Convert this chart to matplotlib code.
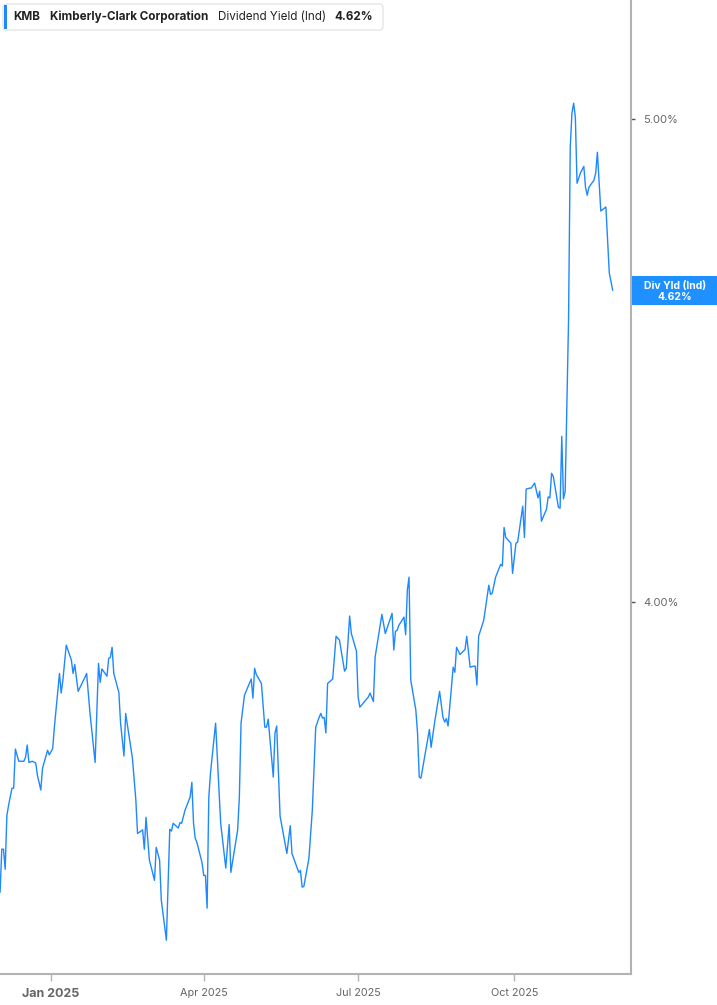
import numpy as np
import pandas as pd
import matplotlib
matplotlib.use("Agg")
import matplotlib.pyplot as plt
import matplotlib.dates as mdates
from matplotlib.patches import FancyBboxPatch, Rectangle
from matplotlib.ticker import FixedLocator, NullLocator, NullFormatter

# dividend yield (indicated)
dates = [
    "2024-12-02", "2024-12-03", "2024-12-04", "2024-12-05", "2024-12-06", "2024-12-07",
    "2024-12-09", "2024-12-10", "2024-12-11", "2024-12-13", "2024-12-16", "2024-12-17",
    "2024-12-18", "2024-12-19", "2024-12-21", "2024-12-23", "2024-12-24", "2024-12-26",
    "2024-12-27", "2024-12-30", "2024-12-31", "2025-01-02", "2025-01-03", "2025-01-06",
    "2025-01-07", "2025-01-08", "2025-01-10", "2025-01-13", "2025-01-14", "2025-01-15",
    "2025-01-17", "2025-01-21", "2025-01-22", "2025-01-24", "2025-01-27", "2025-01-29",
    "2025-01-30", "2025-01-31", "2025-02-03", "2025-02-04", "2025-02-05", "2025-02-06",
    "2025-02-07", "2025-02-10", "2025-02-11", "2025-02-13", "2025-02-14", "2025-02-18",
    "2025-02-20", "2025-02-21", "2025-02-22", "2025-02-24", "2025-02-25", "2025-02-26",
    "2025-02-28", "2025-03-03", "2025-03-04", "2025-03-06", "2025-03-07", "2025-03-10",
    "2025-03-12", "2025-03-13", "2025-03-14", "2025-03-17", "2025-03-18", "2025-03-19",
    "2025-03-21", "2025-03-24", "2025-03-25", "2025-03-26", "2025-03-27", "2025-03-28",
    "2025-03-31", "2025-04-01", "2025-04-02", "2025-04-03", "2025-04-04", "2025-04-05",
    "2025-04-08", "2025-04-11", "2025-04-14", "2025-04-16", "2025-04-17", "2025-04-21",
    "2025-04-22", "2025-04-23", "2025-04-25", "2025-04-29", "2025-04-30", "2025-05-01",
    "2025-05-02", "2025-05-05", "2025-05-07", "2025-05-08", "2025-05-09", "2025-05-12",
    "2025-05-13", "2025-05-14", "2025-05-16", "2025-05-20", "2025-05-22", "2025-05-23",
    "2025-05-27", "2025-05-28", "2025-05-29", "2025-05-30", "2025-06-02", "2025-06-04",
    "2025-06-06", "2025-06-08", "2025-06-09", "2025-06-10", "2025-06-11", "2025-06-12",
    "2025-06-13", "2025-06-16", "2025-06-18", "2025-06-20", "2025-06-23", "2025-06-24",
    "2025-06-26", "2025-06-27", "2025-06-30", "2025-07-01", "2025-07-02", "2025-07-07",
    "2025-07-08", "2025-07-10", "2025-07-11", "2025-07-15", "2025-07-17", "2025-07-21",
    "2025-07-22", "2025-07-23", "2025-07-24", "2025-07-25", "2025-07-28", "2025-07-29",
    "2025-07-30", "2025-07-31", "2025-08-01", "2025-08-04", "2025-08-05", "2025-08-06",
    "2025-08-07", "2025-08-12", "2025-08-13", "2025-08-15", "2025-08-18", "2025-08-20",
    "2025-08-21", "2025-08-22", "2025-08-23", "2025-08-26", "2025-08-27", "2025-08-28",
    "2025-08-30", "2025-09-02", "2025-09-03", "2025-09-05", "2025-09-07", "2025-09-08",
    "2025-09-09", "2025-09-10", "2025-09-13", "2025-09-15", "2025-09-16", "2025-09-17",
    "2025-09-18", "2025-09-20", "2025-09-23", "2025-09-24", "2025-09-25", "2025-09-26",
    "2025-09-29", "2025-09-30", "2025-10-02", "2025-10-03", "2025-10-06", "2025-10-07",
    "2025-10-08", "2025-10-10", "2025-10-11", "2025-10-13", "2025-10-15", "2025-10-16",
    "2025-10-17", "2025-10-20", "2025-10-21", "2025-10-22", "2025-10-23", "2025-10-24",
    "2025-10-27", "2025-10-28", "2025-10-29", "2025-10-30", "2025-10-31", "2025-11-02",
    "2025-11-03", "2025-11-04", "2025-11-05", "2025-11-06", "2025-11-07", "2025-11-09",
    "2025-11-11", "2025-11-12", "2025-11-13", "2025-11-14", "2025-11-17", "2025-11-18",
    "2025-11-19", "2025-11-21", "2025-11-23", "2025-11-24", "2025-11-26", "2025-11-28",
]
yield_pct = [
    3.498, 3.568, 3.568, 3.535, 3.624, 3.641,
    3.670, 3.670, 3.737, 3.716, 3.716, 3.723,
    3.744, 3.714, 3.716, 3.713, 3.692, 3.667,
    3.704, 3.735, 3.727, 3.738, 3.775, 3.870,
    3.835, 3.858, 3.921, 3.894, 3.870, 3.886,
    3.838, 3.863, 3.870, 3.799, 3.714, 3.888,
    3.854, 3.878, 3.865, 3.897, 3.899, 3.917,
    3.870, 3.836, 3.782, 3.725, 3.799, 3.721,
    3.650, 3.594, 3.596, 3.600, 3.568, 3.621,
    3.550, 3.517, 3.571, 3.550, 3.485, 3.421,
    3.601, 3.598, 3.611, 3.603, 3.612, 3.611,
    3.633, 3.655, 3.680, 3.611, 3.586, 3.579,
    3.546, 3.525, 3.525, 3.472, 3.655, 3.696,
    3.782, 3.611, 3.537, 3.609, 3.530, 3.600,
    3.655, 3.782, 3.831, 3.860, 3.826, 3.879,
    3.868, 3.852, 3.775, 3.775, 3.789, 3.689,
    3.765, 3.777, 3.623, 3.561, 3.607, 3.561,
    3.530, 3.533, 3.506, 3.507, 3.553, 3.633,
    3.775, 3.792, 3.799, 3.791, 3.792, 3.765,
    3.852, 3.860, 3.937, 3.930, 3.874, 3.879,
    3.974, 3.942, 3.910, 3.828, 3.810, 3.828,
    3.835, 3.820, 3.899, 3.977, 3.942, 3.979,
    3.912, 3.946, 3.948, 3.957, 3.972, 3.940,
    4.022, 4.046, 3.858, 3.805, 3.765, 3.689,
    3.687, 3.771, 3.740, 3.782, 3.838, 3.792,
    3.784, 3.790, 3.777, 3.881, 3.872, 3.917,
    3.904, 3.913, 3.937, 3.881, 3.883, 3.883,
    3.849, 3.937, 3.966, 4.009, 4.031, 4.014,
    4.016, 4.046, 4.070, 4.067, 4.140, 4.121,
    4.110, 4.053, 4.110, 4.112, 4.181, 4.121,
    4.214, 4.216, 4.216, 4.226, 4.197, 4.210,
    4.152, 4.175, 4.199, 4.197, 4.245, 4.239,
    4.179, 4.177, 4.318, 4.195, 4.210, 4.557,
    4.936, 5.014, 5.037, 5.005, 4.854, 4.877,
    4.892, 4.845, 4.827, 4.845, 4.861, 4.877,
    4.924, 4.792, 4.798, 4.801, 4.657, 4.620,
]

ticker = "KMB"
company = "Kimberly-Clark Corporation"
metric = "Dividend Yield (Ind)"
last_label = "4.62%"
y_ticks = [4.0, 5.0]
x_ticks = ["2025-01-01", "2025-04-01", "2025-07-01", "2025-10-01"]
x_tick_labels = ["Jan 2025", "Apr 2025", "Jul 2025", "Oct 2025"]

LINE = "#1e88ff"
GRID = "#b3b3b3"
TXT = "#666666"

plt.rcParams["font.family"] = ["Inter", "DejaVu Sans"]

W, H = 717, 1005
fig = plt.figure(figsize=(W / 100, H / 100), dpi=100)
ax = fig.add_axes([0, 1 - 974 / H, 631 / W, 974 / H])

x = pd.to_datetime(dates)
ax.plot(x, yield_pct, color=LINE, lw=1.0)

ax.set_yscale("log")
ax.set_ylim(3.368, 5.283)
ax.set_xlim(mdates.date2num(pd.Timestamp("2024-12-01")) + 0.95,
            mdates.date2num(pd.Timestamp("2025-12-08")) + 0.8)

ax.yaxis.set_major_locator(FixedLocator(y_ticks))
ax.yaxis.set_minor_locator(NullLocator())
ax.yaxis.set_minor_formatter(NullFormatter())
ax.set_yticklabels([f"{v:.2f}%" for v in y_ticks])
ax.yaxis.tick_right()
ax.tick_params(axis="y", which="major", length=3, width=1, color="#555555",
               labelsize=8, labelcolor=TXT, pad=6)

ax.set_xticks(pd.to_datetime(x_ticks))
ax.set_xticklabels(x_tick_labels)
ax.tick_params(axis="x", length=5, width=1, color=GRID, labelsize=7.8,
               labelcolor=TXT, pad=5)
first = ax.get_xticklabels()[0]
first.set_fontweight("bold")
first.set_fontsize(9)

for s in ["top", "left"]:
    ax.spines[s].set_visible(False)
for s in ["right", "bottom"]:
    ax.spines[s].set_color(GRID)
    ax.spines[s].set_linewidth(1.5)

# header legend box
fig.patches.append(FancyBboxPatch((3 / W, 1 - 30 / H), 380 / W, 26 / H,
                                  boxstyle="round,pad=0,rounding_size=0.004",
                                  transform=fig.transFigure, fc="white",
                                  ec="#e6e6e6", lw=1))
fig.patches.append(Rectangle((4 / W, 1 - 29 / H), 3 / W, 24 / H,
                             transform=fig.transFigure, fc=LINE, ec="none"))
ty = 1 - 17 / H
hs = 8.4
fig.text(13 / W, ty, ticker, fontsize=hs, fontweight="bold", color="#222222", va="center")
fig.text(50 / W, ty, company, fontsize=hs, fontweight="bold", color="#222222", va="center")
fig.text(218 / W, ty, metric, fontsize=hs, color="#222222", va="center")
fig.text(334 / W, ty, last_label, fontsize=hs, fontweight="bold", color="#222222", va="center")

# last value tag on the right axis
fig.patches.append(Rectangle((632 / W, 1 - 305 / H), 85 / W, 29 / H,
                             transform=fig.transFigure, fc="#1e90ff", ec="none"))
fig.text(675 / W, 1 - 285.5 / H, "Div Yld (Ind)", fontsize=7.5, fontweight="bold",
         color="white", ha="center", va="center")
fig.text(675 / W, 1 - 297 / H, last_label, fontsize=7.5, fontweight="bold",
         color="white", ha="center", va="center")

fig.savefig("out.png", dpi=100)
